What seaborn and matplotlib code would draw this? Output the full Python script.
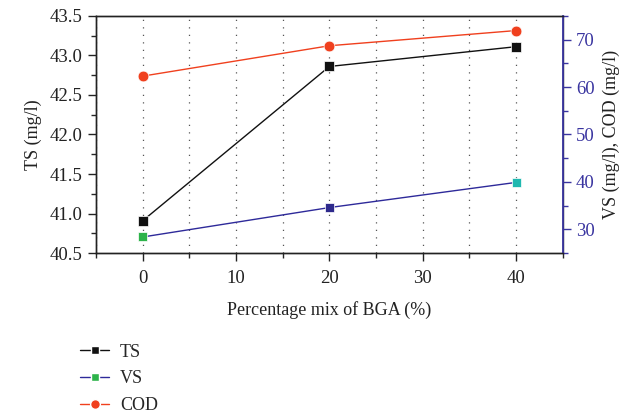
import matplotlib
matplotlib.use("Agg")
import matplotlib.pyplot as plt
import seaborn as sns
import pandas as pd
from matplotlib.lines import Line2D
from matplotlib.ticker import MultipleLocator

sns.set_style("ticks")
plt.rcParams['font.family'] = ['Liberation Serif', 'DejaVu Serif']

mix = [0, 20, 40]
ts = [40.91, 42.86, 43.11]
vs = [28.4, 34.6, 39.9]
cod = [62.3, 68.7, 71.9]
vs_marker_colors = ["#2db34a", "#2e2a8c", "#1fb8b0"]
series_names = ["TS", "VS", "COD"]

c_ts = "#111111"
c_vs = "#2e2a9a"
c_cod = "#f0401e"
c_right = "#3a35a0"

df = pd.DataFrame({"mix": mix, "TS": ts, "VS": vs, "COD": cod})

fig = plt.figure(figsize=(6.28, 4.17), dpi=100)
ax = fig.add_axes([0.153, 0.393, 0.743, 0.569])
ax2 = ax.twinx()

sns.lineplot(data=df, x="mix", y="TS", ax=ax, color=c_ts, lw=1.0, zorder=3)
sns.scatterplot(data=df, x="mix", y="TS", ax=ax, color=c_ts, marker="s", s=42, edgecolor="white", linewidth=0.5, zorder=4)

sns.lineplot(data=df, x="mix", y="VS", ax=ax2, color=c_vs, lw=1.0, zorder=3)
sns.scatterplot(data=df, x="mix", y="VS", ax=ax2, hue="mix", palette=vs_marker_colors, marker="s", s=42, edgecolor="white", linewidth=0.5, legend=False, zorder=4)
sns.lineplot(data=df, x="mix", y="COD", ax=ax2, color=c_cod, lw=1.0, zorder=3)
sns.scatterplot(data=df, x="mix", y="COD", ax=ax2, color=c_cod, marker="o", s=60, edgecolor="white", linewidth=0.5, zorder=4)

ax.set_xlim(-5, 45)
ax.set_ylim(40.5, 43.5)
ax2.set_ylim(25, 75)

ax.xaxis.set_major_locator(MultipleLocator(10))
ax.xaxis.set_minor_locator(MultipleLocator(5))
ax.yaxis.set_major_locator(MultipleLocator(0.5))
ax.yaxis.set_minor_locator(MultipleLocator(0.25))
ax2.yaxis.set_major_locator(MultipleLocator(10))
ax2.yaxis.set_minor_locator(MultipleLocator(5))
ax.yaxis.set_major_formatter(matplotlib.ticker.FormatStrFormatter('%.1f'))

ax.grid(True, axis="x", which="both", linestyle=(0, (1, 5)), color="#555555", lw=0.9)

for a in (ax, ax2):
    a.tick_params(which="major", length=6, width=1, direction="out", labelsize=13.5)
    a.tick_params(which="minor", length=3.5, width=1, direction="out")
    for sp in a.spines.values():
        sp.set_linewidth(1.0)
        sp.set_color("#222222")
ax.tick_params(axis="x", pad=6)

ax2.spines["right"].set_color(c_right)
ax2.spines["right"].set_linewidth(1.3)
ax2.tick_params(axis="y", which="both", colors=c_right, labelcolor=c_right)

ax.set_xlabel("Percentage mix of BGA (%)", fontsize=13, color="#222222", labelpad=10)
ax.set_ylabel("TS (mg/l)", fontsize=13, color="#222222", labelpad=6)
ax2.set_ylabel("VS (mg/l), COD (mg/l)", fontsize=13, color="#222222", labelpad=6)
ax.tick_params(colors="#222222")

handles = [
    Line2D([], [], color=c_ts, lw=1, marker="s", markersize=6, markerfacecolor=c_ts, markeredgecolor="white"),
    Line2D([], [], color=c_vs, lw=1, marker="s", markersize=6, markerfacecolor=vs_marker_colors[0], markeredgecolor="white"),
    Line2D([], [], color=c_cod, lw=1, marker="o", markersize=7, markerfacecolor=c_cod, markeredgecolor="white"),
]
fig.legend(handles, series_names, loc="upper left", bbox_to_anchor=(0.116, 0.193), frameon=False,
           fontsize=13, handlelength=1.6, labelspacing=0.53, handletextpad=0.6, borderaxespad=0)

fig.savefig("out.png", dpi=100)
